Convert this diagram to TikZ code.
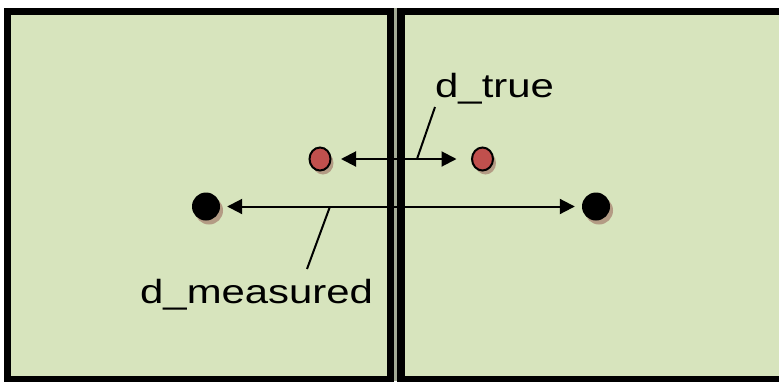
\documentclass[tikz,border=0pt]{standalone}
\usepackage{fontspec}
\setmainfont{Liberation Sans}
\usetikzlibrary{arrows.meta,shapes.geometric,shadows}
\definecolor{panel}{HTML}{D7E4BD}
\definecolor{dotred}{HTML}{C0504D}
\definecolor{shade}{HTML}{9C6B5E}
\definecolor{gapgray}{HTML}{A3AA95}
\tikzset{
  panelbox/.style={draw=black, line width=7.5pt, fill=panel},
  dotshadow/.style={drop shadow={shadow xshift=3pt, shadow yshift=-4pt, fill=shade, opacity=.6}},
  reddot/.style={ellipse, draw=black, line width=2pt, fill=dotred, minimum width=21pt,
                 minimum height=23pt, inner sep=0pt, dotshadow},
  blackdot/.style={circle, fill=black, minimum size=28pt, inner sep=0pt, dotshadow},
  dim/.style={line width=2pt, {Triangle[length=15pt,width=15pt]}-{Triangle[length=15pt,width=15pt]}},
  lead/.style={line width=2pt},
  lbl/.style={font=\fontsize{33.5}{40}\selectfont, inner sep=0pt, anchor=base west}
}
\begin{document}
\begin{tikzpicture}[x=1pt,y=-1pt]
\useasboundingbox (0,0) rectangle (779,381);
\clip (0,0) rectangle (779,381);
\fill[white] (0,0) rectangle (779,381);
\fill[gapgray] (394,8) rectangle (397,381);

% the two panels
\draw[panelbox] (7.5,11.5) rectangle (390.5,379.5);
\draw[panelbox] (401,11.5) rectangle (790,379.5);

% point pairs
\node[reddot] (rl) at (320,159) {};
\node[reddot] (rr) at (482.5,159) {};
\node[blackdot] (bl) at (206,206.5) {};
\node[blackdot] (br) at (596,206.5) {};

% distance arrows
\draw[dim, shorten <=9.5pt, shorten >=14.5pt] (rl) -- (rr);
\draw[dim, shorten <=7pt, shorten >=7pt] (bl) -- (br);

% labels and their leader lines
\node[lbl] (ltrue) at (435,97) {\scalebox{1.25}[1]{d\_true}};
\node[lbl] (lmeas) at (140,303) {\scalebox{1.25}[1]{d\_measured}};
\coordinate (ta) at (417,159);
\coordinate (tl) at (435,107);
\coordinate (ma) at (330,206.5);
\coordinate (ml) at (307,269);
\draw[lead] (ta) -- (tl);
\draw[lead] (ma) -- (ml);
\end{tikzpicture}
\end{document}
